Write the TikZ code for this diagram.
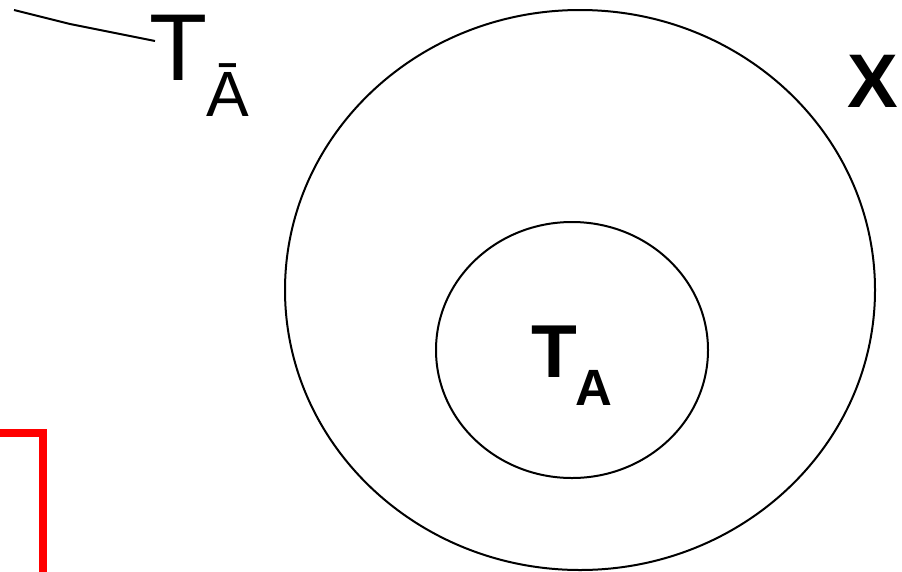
\documentclass[tikz,border=0pt]{standalone}
\usepackage{fontspec}
\setmainfont{Liberation Sans}
\usetikzlibrary{positioning}

\begin{document}
\begin{tikzpicture}[x=1pt,y=-1pt,
	lbl/.style={inner sep=0pt, anchor=base west},
	set/.style={line width=2pt, draw=black}]

	\useasboundingbox (0,0) rectangle (902,571);

	%Universe
	\draw[set] (580,290) ellipse [x radius=295pt, y radius=280pt];
	\node[lbl] (X) at (847,107) {\fontsize{76}{76}\selectfont\bfseries X};

	%Inner set
	\draw[set] (572,350) ellipse [x radius=136pt, y radius=128pt];
	\node[lbl] (TA) at (531,377) {\fontsize{75}{75}\selectfont\bfseries T};
	\node[lbl] (TAsub) at (575,405) {\fontsize{51}{51}\selectfont\bfseries A};

	%Complement label
	\node[lbl] (TC) at (149,80) {\fontsize{95}{95}\selectfont T};
	\node[lbl] (TCsub) at (206,116) {\fontsize{64}{64}\selectfont Ā};

	%Pointer
	\coordinate (p0) at (14,10);
	\coordinate (p1) at (70,24);
	\coordinate (p2) at (155,41);
	\draw[line width=2pt] (p0) -- (p1) -- (p2);

	%Red corner
	\draw[red, line width=8pt] (-5,433) -- (43,433) -- (43,580);

\end{tikzpicture}
\end{document}
